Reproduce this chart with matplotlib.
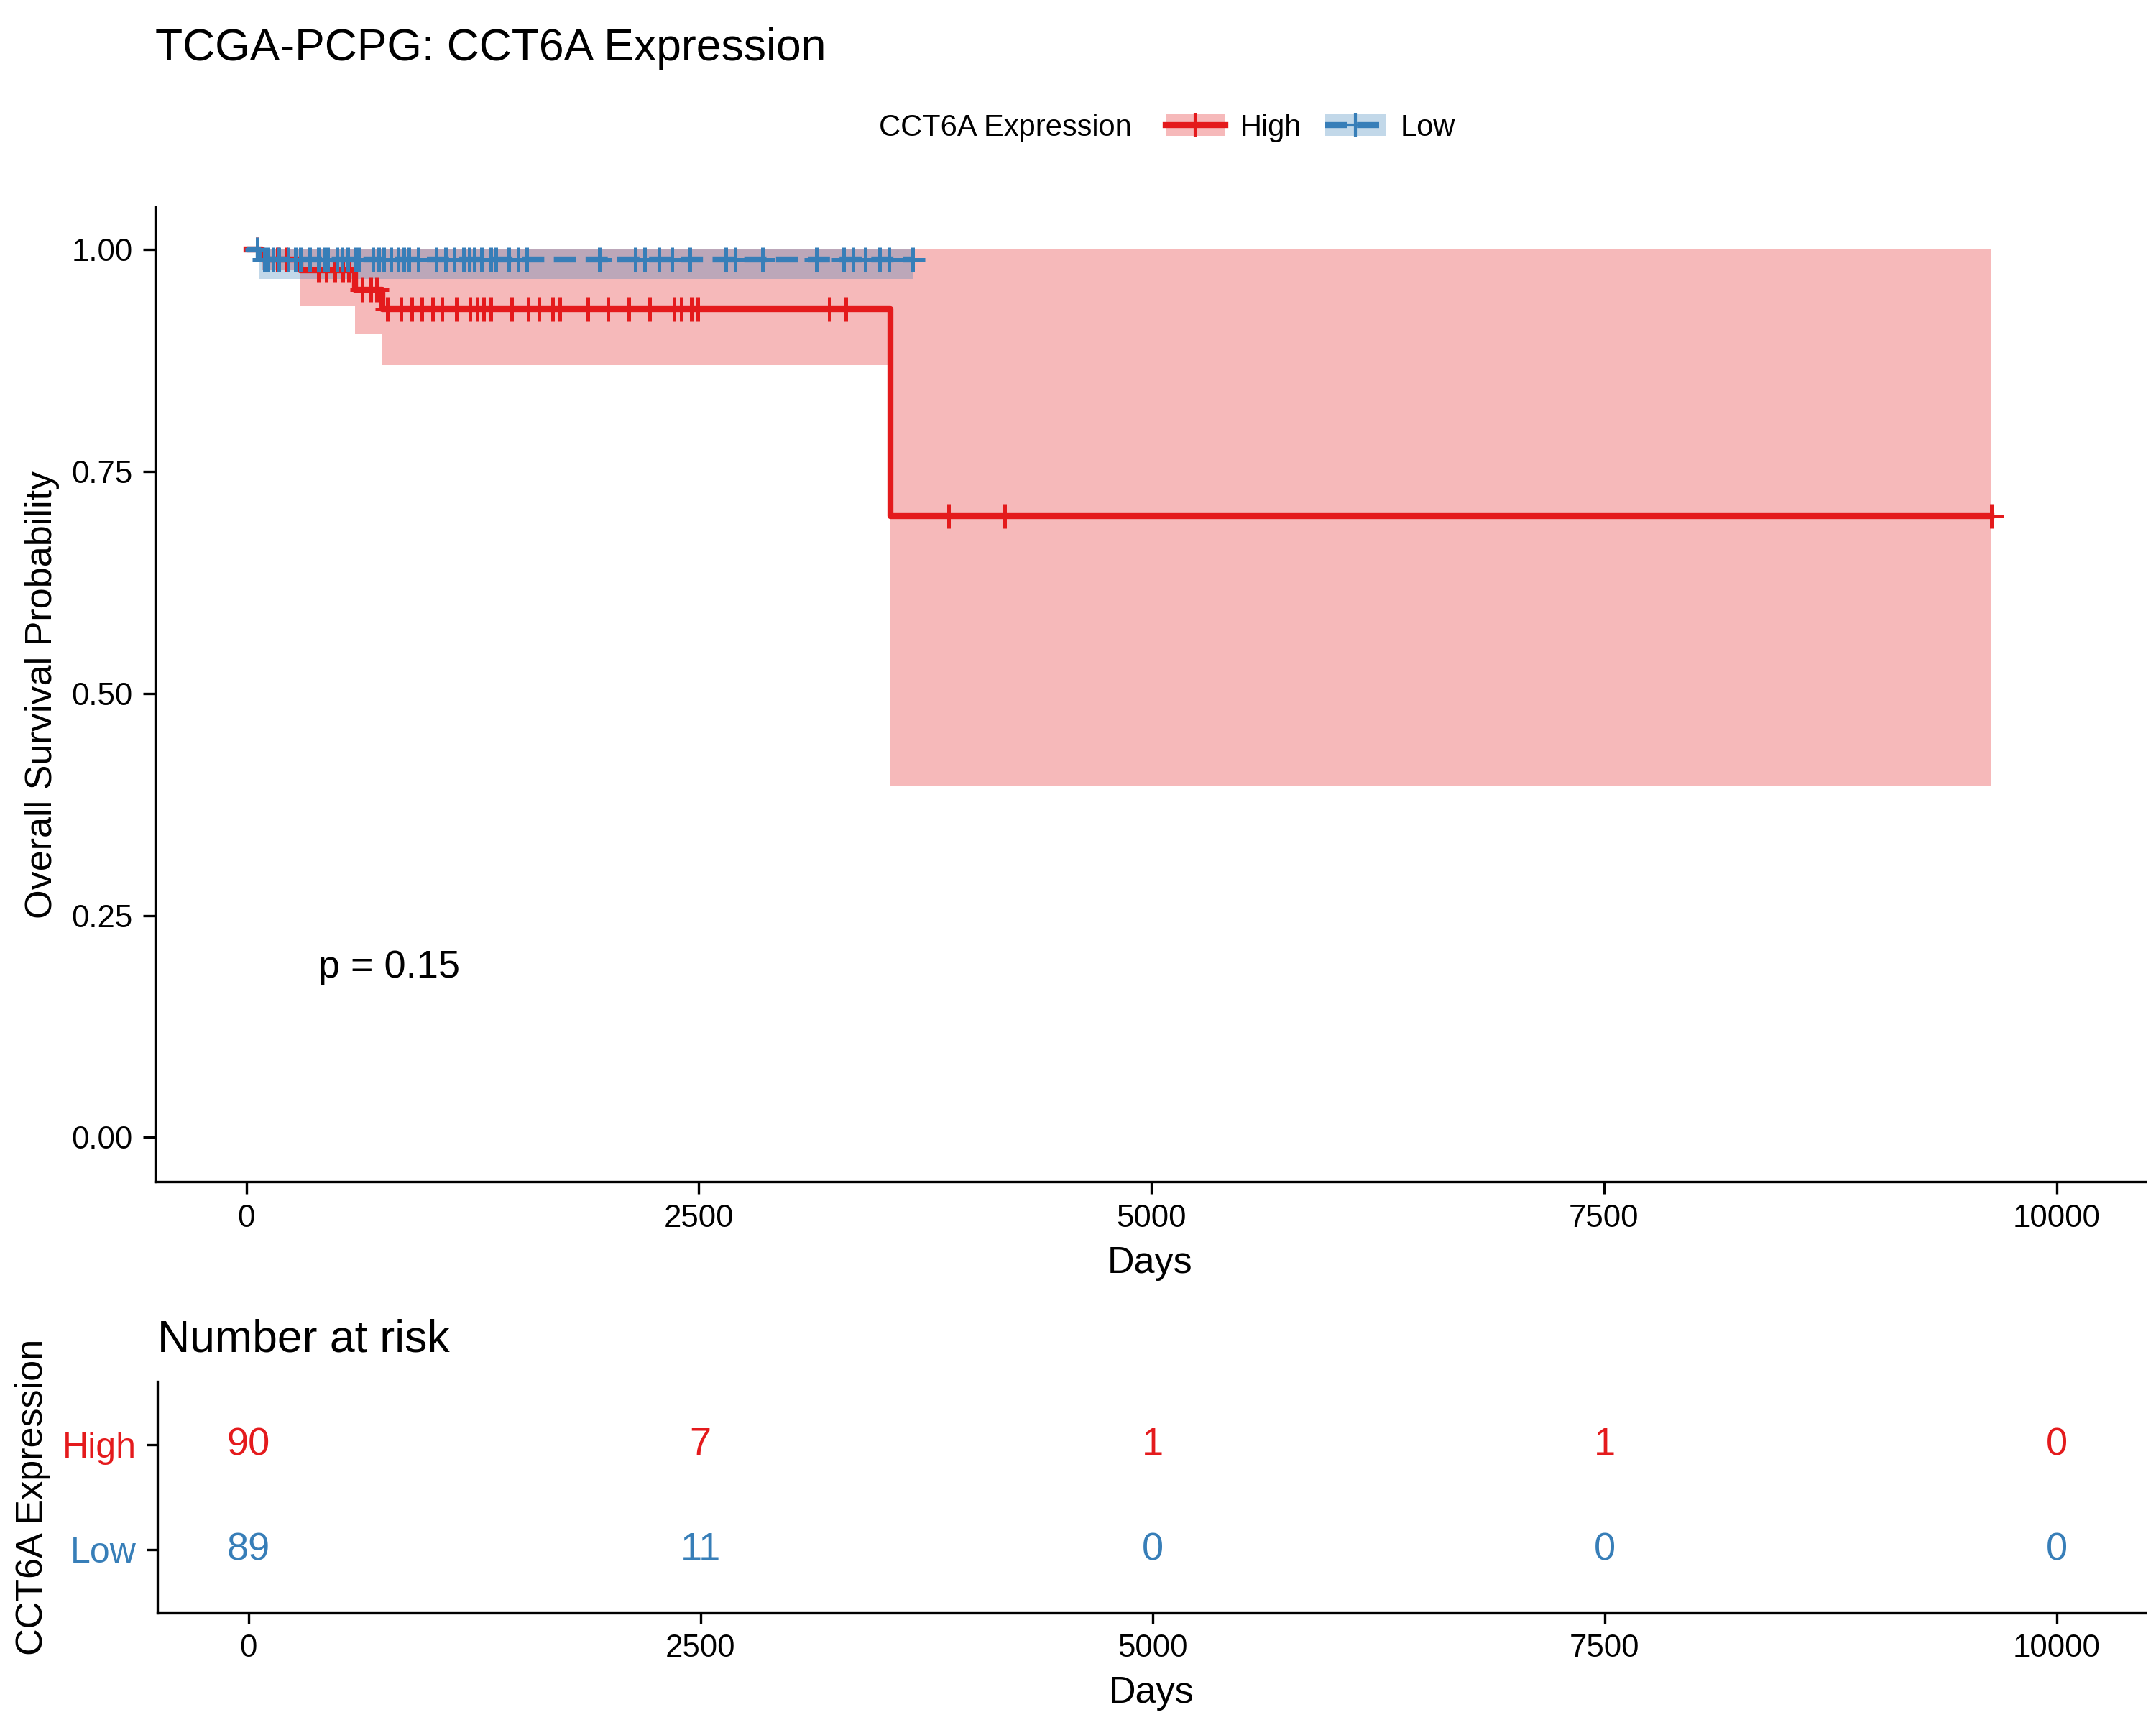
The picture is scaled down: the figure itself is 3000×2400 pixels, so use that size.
import numpy as np
import matplotlib
matplotlib.use('Agg')
import matplotlib.pyplot as plt
from matplotlib.patches import Patch
from matplotlib.lines import Line2D

plt.rcParams['font.family'] = ['Liberation Sans', 'DejaVu Sans']

# ── Data ──────────────────────────────────────────────────────────────────────
high_t    = [0, 90, 300, 600, 750, 3560, 9640]
high_s    = [1.0, 0.989, 0.977, 0.955, 0.933, 0.70, 0.70]
high_lo   = [1.0, 0.977, 0.936, 0.905, 0.870, 0.395, 0.395]
high_hi   = [1.0, 1.0, 1.0, 1.0, 1.0, 1.0, 1.0]
high_cens = [60, 170, 220, 400, 443, 488, 534, 565, 640, 687, 718,
             778, 855, 916, 969, 1030, 1083, 1160, 1236, 1274, 1312, 1350,
             1465, 1557, 1618, 1694, 1732, 1885, 1999, 2114, 2228, 2365,
             2403, 2457, 2495, 3220, 3311, 3880, 4190, 9640]

low_t    = [0, 70, 3680]
low_s    = [1.0, 0.989, 0.989]
low_lo   = [1.0, 0.967, 0.967]
low_hi   = [1.0, 1.0, 1.0]
low_cens = [60, 100, 120, 150, 180, 230, 270, 300, 350, 400, 430, 450, 500,
            530, 560, 600, 620, 700, 730, 760, 800, 840, 870, 900, 950, 1050,
            1100, 1150, 1200, 1230, 1260, 1300, 1350, 1380, 1450, 1500, 1550,
            1950, 2150, 2200, 2280, 2350, 2450, 2650, 2700, 2850, 3150, 3300,
            3350, 3420, 3500, 3550, 3680]

risk_times = [0, 2500, 5000, 7500, 10000]
risk_high  = [90, 7, 1, 1, 0]
risk_low   = [89, 11, 0, 0, 0]

RED, BLUE = '#E41A1C', '#377EB8'


def surv_at(ts, ss, x):
    idx = np.searchsorted(ts, x, side='right') - 1
    return np.array(ss)[idx]


fig = plt.figure(figsize=(10, 8), dpi=300)
ax = fig.add_axes([0.072, 0.315, 0.923, 0.565])

for t, s, lo, hi, cens, col, ls in [
        (high_t, high_s, high_lo, high_hi, high_cens, RED, '-'),
        (low_t, low_s, low_lo, low_hi, low_cens, BLUE, '--')]:
    ax.fill_between(t, lo, hi, step='post', color=col, alpha=0.3, lw=0)
    ax.step(t, s, where='post', color=col, lw=2, ls=ls)
    ax.plot(cens, surv_at(t, s, cens), ls='none', marker='+', ms=8,
            mew=1.2, color=col)

ax.set_xlim(-503, 10490)
ax.set_ylim(-0.05, 1.048)
ax.set_xticks(risk_times)
ax.set_yticks([0, 0.25, 0.5, 0.75, 1.0])
ax.set_yticklabels(['0.00', '0.25', '0.50', '0.75', '1.00'])
ax.tick_params(labelsize=10.5, color='black', length=4)
ax.set_xlabel('Days', fontsize=12.5)
ax.set_ylabel('Overall Survival Probability', fontsize=12.5)
for sp in ['top', 'right']:
    ax.spines[sp].set_visible(False)
ax.text(400, 0.18, 'p = 0.15', fontsize=13)

fig.text(0.072, 0.965, 'TCGA-PCPG: CCT6A Expression', fontsize=15)
fig.text(0.525, 0.926, 'CCT6A Expression', fontsize=10, ha='right', va='center')
handles = [(Patch(color=RED, alpha=0.3, lw=0), Line2D([], [], color=RED, lw=2, marker='+', ms=8)),
           (Patch(color=BLUE, alpha=0.3, lw=0), Line2D([], [], color=BLUE, lw=2, ls='--', marker='+', ms=8))]
fig.legend(handles, ['High', 'Low'], loc='center left', bbox_to_anchor=(0.528, 0.926),
           ncol=2, frameon=False, fontsize=10, handlelength=2, columnspacing=0.8,
           handletextpad=0.5)

# ── Risk table ────────────────────────────────────────────────────────────────
rt = fig.add_axes([0.073, 0.065, 0.922, 0.134])
for x, h, l in zip(risk_times, risk_high, risk_low):
    rt.text(x, 1, str(h), color=RED, ha='center', va='center', fontsize=13)
    rt.text(x, 0, str(l), color=BLUE, ha='center', va='center', fontsize=13)
rt.set_xlim(-503, 10490)
rt.set_ylim(-0.6, 1.6)
rt.set_yticks([1, 0])
rt.set_yticklabels(['High', 'Low'], fontsize=12)
for lab, col in zip(rt.get_yticklabels(), [RED, BLUE]):
    lab.set_color(col)
rt.set_xticks(risk_times)
rt.tick_params(axis='x', labelsize=10.5)
rt.set_xlabel('Days', fontsize=12.5)
rt.set_ylabel('CCT6A Expression', fontsize=12.5)
rt.set_title('Number at risk', loc='left', fontsize=15, pad=10)
for sp in ['top', 'right']:
    rt.spines[sp].set_visible(False)

fig.savefig('out.png', dpi=300)
